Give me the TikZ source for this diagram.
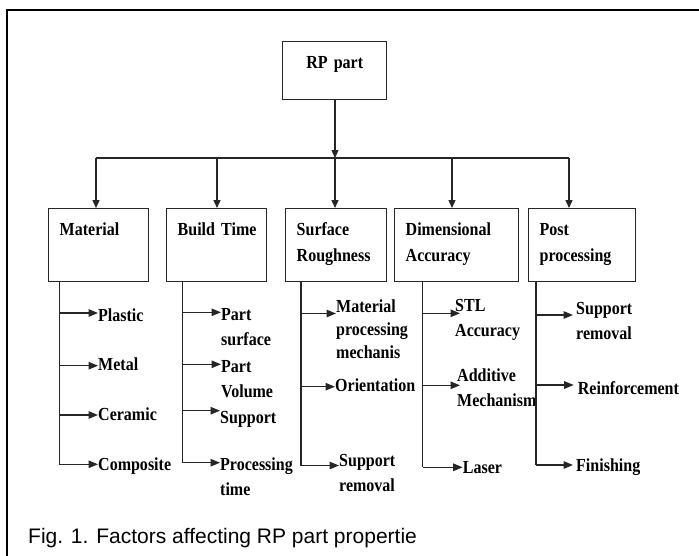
\documentclass[tikz,border=0pt]{standalone}
\usepackage{fontspec}
\setmainfont{Liberation Serif}
\newfontfamily\diagfont{Liberation Serif}[FakeStretch=0.87]
\newfontfamily\capfont{Liberation Sans}
\usetikzlibrary{arrows.meta}

\tikzset{
  catbox/.style={draw=black!85, line width=1.4pt, anchor=north west, inner xsep=11pt, inner ysep=0pt,
    text height=27pt, text depth=46pt, align=left, font=\diagfont\bfseries\fontsize{18.4}{26}\selectfont},
  leaf/.style={anchor=base west, inner sep=0pt, text width=115pt, align=left,
    font=\diagfont\bfseries\fontsize{18.4}{25}\selectfont},
  link/.style={draw=black!85, line width=1.3pt},
  arr/.style={link, -{Triangle[length=8pt,width=7pt]}},
  leafarr/.style={link, -{Triangle[length=9.5pt,width=7.5pt]}},
  frame/.style={draw=black, line width=2.8pt}
}

\begin{document}
\begin{tikzpicture}[x=1pt, y=-1pt]
  \useasboundingbox (0,0) rectangle (699,555);

  %%%%% frame and caption %%%%%
  \draw[frame] (699,10) -- (7,10) -- (7,556);
  \node[anchor=base west, inner sep=0pt, font=\capfont\fontsize{21}{24}\selectfont] (cap) at (28,543)
    {Fig. 1. Factors affecting RP part propertie};

  %%%%% top box and categories %%%%%
  \node[catbox, text width=82pt, text depth=31pt, align=center] (rp) at (282,41) {RP part};

  \node[catbox, text width=78pt] (mat) at (48,208) {Material};
  \node[catbox, text width=78pt] (bt) at (166,208) {\mbox{Build Time}};
  \node[catbox, text width=79pt] (sr) at (285,208) {Surface\\Roughness};
  \node[catbox, text width=102pt] (da) at (394,208) {Dimensional\\Accuracy};
  \node[catbox, text width=85pt] (pp) at (528,208) {Post\\processing};

  \coordinate (bus1) at (96,158);
  \coordinate (bus2) at (217,158);
  \coordinate (bus3) at (335,158);
  \coordinate (bus4) at (452,158);
  \coordinate (bus5) at (569,158);

  \draw[arr] (rp.south -| bus3) -- (bus3);
  \draw[link] (bus1) -- (bus5);
  \draw[arr] (bus1) -- (bus1 |- mat.north);
  \draw[arr] (bus2) -- (bus2 |- bt.north);
  \draw[arr] (bus3) -- (bus3 |- sr.north);
  \draw[arr] (bus4) -- (bus4 |- da.north);
  \draw[arr] (bus5) -- (bus5 |- pp.north);

  %%%%% Material %%%%%
  \coordinate (smat) at (59.3,281);
  \node[leaf] (pla) at (98,321.7) {Plastic};
  \node[leaf] (met) at (98,370.7) {Metal};
  \node[leaf] (cer) at (98,420) {Ceramic};
  \node[leaf] (com) at (98,470) {Composite};
  \draw[link] (smat) -- (smat |- 0,464.3);
  \draw[leafarr] (smat |- 0,313) -- (pla.west |- 0,313);
  \draw[leafarr] (smat |- 0,365.7) -- (met.west |- 0,365.7);
  \draw[leafarr] (smat |- 0,415) -- (cer.west |- 0,415);
  \draw[leafarr] (smat |- 0,464.3) -- (com.west |- 0,464.3);

  %%%%% Build Time %%%%%
  \coordinate (sbt) at (182.7,281);
  \node[leaf] (psu) at (221,320.7) {Part\\surface};
  \node[leaf] (pvo) at (221,372.7) {Part\\Volume};
  \node[leaf] (sup) at (220,423.3) {Support};
  \node[leaf] (pti) at (220,470) {Processing\\time};
  \draw[link] (sbt) -- (sbt |- 0,462.7);
  \draw[leafarr] (sbt |- 0,312.3) -- (psu.west |- 0,312.3);
  \draw[leafarr] (sbt |- 0,364.3) -- (pvo.west |- 0,364.3);
  \draw[leafarr] (sbt |- 0,410.7) -- (sup.west |- 0,410.7);
  \draw[leafarr] (sbt |- 0,462.7) -- (pti.west |- 0,462.7);

  %%%%% Surface Roughness %%%%%
  \coordinate (ssr) at (301,281);
  \node[leaf, font=\diagfont\bfseries\fontsize{18.4}{23}\selectfont] (mpm) at (336,312)
    {Material\\processing\\mechanis};
  \node[leaf] (ori) at (335,391) {Orientation};
  \node[leaf] (sre) at (339,466.5) {Support\\removal};
  \draw[link] (ssr) -- (ssr |- 0,465.5);
  \draw[leafarr] (ssr |- 0,313.5) -- (mpm.west |- 0,313.5);
  \draw[leafarr] (ssr |- 0,386.7) -- (ori.west |- 0,386.7);
  \draw[leafarr] (ssr |- 0,465.5) -- (sre.west |- 0,465.5);

  %%%%% Dimensional Accuracy %%%%%
  \coordinate (sda) at (422.7,281);
  \node[leaf] (stl) at (455,311.7) {STL\\Accuracy};
  \node[leaf] (add) at (457,381.7) {Additive\\Mechanism};
  \node[leaf] (las) at (462.7,473.3) {Laser};
  \draw[link] (sda) -- (sda |- 0,467.3);
  \draw[leafarr] (sda |- 0,313.3) -- ([xshift=5pt]stl.west |- 0,313.3);
  \draw[leafarr] (sda |- 0,385.3) -- ([xshift=3pt]add.west |- 0,385.3);
  \draw[leafarr] (sda |- 0,467.3) -- (las.west |- 0,467.3);

  %%%%% Post processing %%%%%
  \coordinate (spp) at (536,281);
  \node[leaf] (psr) at (576,314.3) {Support\\removal};
  \node[leaf] (rei) at (577.7,394.3) {Reinforcement};
  \node[leaf] (fin) at (576,471.7) {Finishing};
  \draw[link] (spp) -- (spp |- 0,465);
  \draw[leafarr] (spp |- 0,315) -- ([xshift=-3pt]psr.west |- 0,315);
  \draw[leafarr] (spp |- 0,385) -- ([xshift=-4pt]rei.west |- 0,385);
  \draw[leafarr] (spp |- 0,465) -- ([xshift=-3pt]fin.west |- 0,465);
\end{tikzpicture}
\end{document}
